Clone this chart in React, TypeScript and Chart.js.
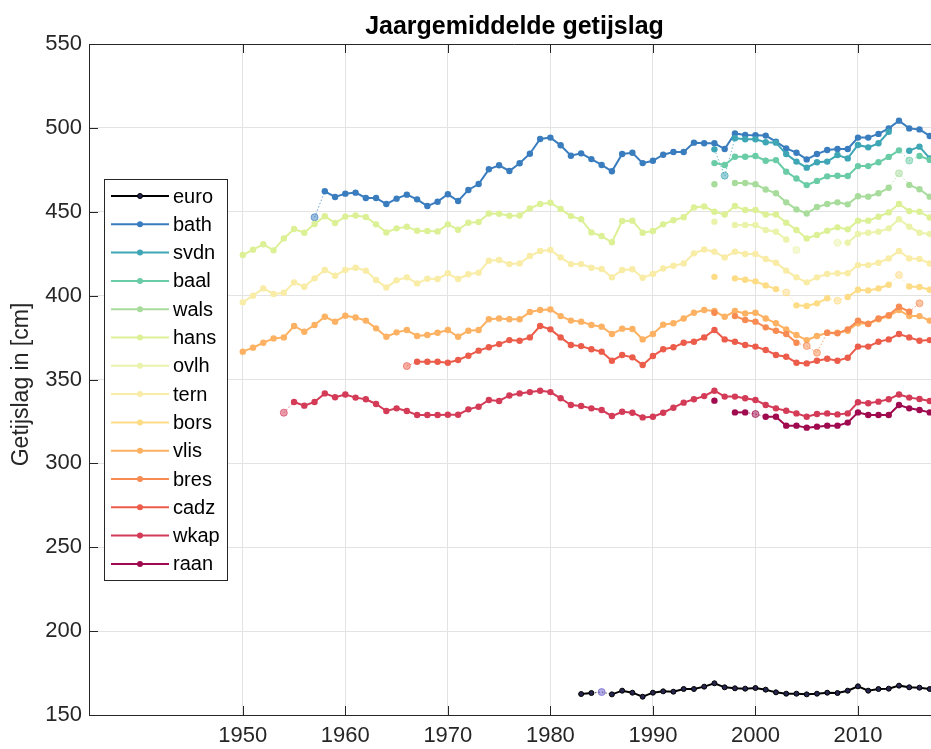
import React, { useEffect, useRef } from 'react';
import { Chart, registerables } from 'chart.js';

Chart.register(...registerables);

// ---- data (yearly means, cm) ----
const xTickYears = [1950, 1960, 1970, 1980, 1990, 2000, 2010];
const yTicks = [150, 200, 250, 300, 350, 400, 450, 500, 550];

const euroStart = 1983;
const euro = [162.5, 163.1, 163.7, 162.3, 164.5, 163.3, 160.9, 163.3, 164.1, 163.9, 165.5, 165.5, 166.9, 168.9, 166.5, 165.9, 165.7, 166.1, 165.1, 163.5, 162.7, 162.7, 162.3, 162.7, 163.3, 163.1, 164.5, 167.1, 164.5, 165.5, 165.7, 167.5, 166.5, 166.3, 165.5];
const euroEst = [1985];

const bathStart = 1957;
const bath = [446.7, 462.2, 458.8, 460.8, 461.4, 458.2, 458.2, 454.6, 457.8, 460.2, 457.4, 453.4, 456.0, 460.4, 456.4, 463.0, 466.5, 475.3, 477.7, 474.3, 478.9, 484.6, 493.4, 494.2, 489.6, 483.4, 484.8, 481.4, 477.9, 474.1, 484.4, 485.2, 479.0, 480.4, 484.0, 485.6, 485.6, 491.2, 490.8, 490.8, 487.4, 496.7, 495.8, 495.6, 495.4, 491.8, 487.8, 485.2, 481.2, 484.4, 486.8, 487.4, 487.4, 494.2, 494.2, 496.4, 499.7, 504.3, 499.7, 499.1, 495.2];
const bathEst = [1957];

const svdnStart = 1996;
const svdn = [487.2, 471.5, 493.8, 493.2, 493.2, 491.4, 491.2, 484.4, 479.9, 476.3, 479.5, 479.9, 483.8, 481.8, 489.8, 488.4, 490.8, 497.7, null, 486.4, 488.8, 481.8];
const svdnEst = [1997];

const baalStart = 1996;
const baal = [479.0, 477.9, 482.8, 482.8, 483.2, 480.4, 480.8, 473.9, 469.8, 465.9, 468.4, 471.1, 471.5, 471.3, 477.2, 477.2, 479.5, 482.7, 486.6, 480.5, 483.2, 480.9];
const baalEst = [2015];

const walsStart = 1996;
const wals = [466.4, null, 467.1, 467.1, 466.4, 463.3, 461.0, 455.6, 451.4, 449.0, 452.8, 454.6, 455.6, 454.4, 459.2, 459.0, 461.0, 464.3, 472.9, 466.0, 463.4, 459.0];
const walsEst = [2014];

const hansStart = 1950;
const hans = [424.2, 427.4, 430.6, 427.0, 434.1, 439.7, 437.5, 442.7, 447.3, 443.3, 447.1, 447.8, 446.9, 442.5, 437.7, 440.1, 441.1, 438.7, 438.5, 438.3, 442.5, 439.3, 443.5, 443.9, 449.0, 448.8, 447.6, 447.8, 452.0, 454.6, 455.4, 451.6, 447.4, 445.5, 437.7, 435.5, 431.8, 444.5, 444.7, 437.5, 438.5, 442.5, 444.9, 446.7, 452.6, 453.2, 450.0, 448.4, 453.4, 451.0, 451.0, 448.4, 448.4, 443.5, 439.1, 434.1, 436.1, 438.7, 440.7, 439.5, 444.7, 444.7, 447.0, 449.6, 454.6, 450.4, 450.0, 446.6];
const hansEst: number[] = [];

const ovlhStart = 1996;
const ovlh = [444.1, null, 442.1, 442.1, 442.1, 439.1, 438.1, 433.5, 427.2, null, null, null, 431.5, 431.5, 436.7, 437.5, 438.1, 440.1, 445.5, 441.1, 437.5, 436.7];
const ovlhEst = [2004, 2008];

const ternStart = 1950;
const tern = [396.0, 400.0, 404.3, 401.0, 401.7, 407.9, 405.3, 410.3, 415.3, 411.9, 415.3, 416.6, 414.9, 409.3, 404.9, 409.1, 410.9, 407.3, 410.1, 409.9, 413.3, 409.9, 412.7, 413.7, 420.8, 421.2, 418.8, 419.2, 423.6, 426.6, 427.2, 422.8, 418.8, 418.8, 416.6, 415.9, 410.9, 415.3, 415.7, 410.7, 412.9, 416.2, 417.8, 419.2, 425.2, 427.5, 426.2, 422.8, 426.2, 424.8, 424.8, 421.8, 419.6, 414.9, 410.9, 407.9, 410.9, 412.9, 413.3, 413.3, 418.2, 418.2, 419.6, 422.2, 426.6, 422.2, 421.8, 419.2];
const ternEst: number[] = [];

const borsStart = 1996;
const bors = [411.2, null, 410.3, 409.5, 408.5, 406.1, 403.9, 401.9, 394.2, 393.8, 395.4, 398.4, 397.0, 399.2, 403.5, 403.1, 404.3, 406.5, 412.3, 405.5, 405.1, 403.5];
const borsEst = [2003, 2008, 2014];

const vlisStart = 1950;
const vlis = [366.6, 369.0, 371.9, 374.5, 375.1, 381.9, 378.5, 382.5, 387.4, 384.5, 388.0, 387.0, 385.1, 380.5, 375.5, 378.1, 379.5, 375.9, 376.5, 377.9, 379.5, 375.5, 379.1, 379.5, 385.9, 386.4, 385.9, 385.9, 390.2, 391.4, 391.8, 387.8, 385.1, 384.5, 382.5, 381.5, 377.1, 380.3, 380.1, 373.9, 377.1, 382.7, 383.5, 386.4, 389.8, 391.4, 390.8, 387.4, 390.8, 389.4, 389.8, 386.4, 383.5, 379.9, 376.5, 373.5, 375.9, 377.9, 377.9, 379.1, 383.5, 383.3, 385.9, 387.8, 391.4, 387.8, 387.8, 385.1];
const vlisEst: number[] = [];

const bresStart = 1996;
const bres = [389.8, null, 387.8, 385.5, 384.5, 381.1, 379.1, 377.1, 371.9, 370.0, 366.0, 377.9, 377.5, 379.9, 385.1, 383.1, 386.4, 388.4, 393.4, 390.4, 395.4, null];
const bresEst = [2005, 2006, 2016];

const cadzStart = 1966;
const cadz = [358.0, 360.6, 360.6, 360.6, 360.0, 361.6, 364.2, 367.2, 369.2, 371.1, 373.5, 373.1, 375.1, 381.9, 379.9, 375.1, 370.6, 369.9, 368.0, 366.6, 361.2, 364.6, 363.2, 358.6, 364.0, 368.0, 369.2, 371.9, 372.5, 375.1, 379.5, 373.9, 372.5, 370.6, 369.6, 367.6, 364.6, 363.6, 360.0, 359.6, 361.2, 362.4, 361.2, 363.0, 369.6, 369.6, 372.5, 373.9, 377.1, 375.1, 373.1, 373.5];
const cadzEst = [1966];

const wkapStart = 1954;
const wkap = [330.2, 336.6, 334.4, 336.6, 341.7, 339.4, 341.1, 339.2, 338.2, 335.4, 331.2, 332.8, 331.2, 328.8, 328.8, 328.8, 329.0, 329.0, 332.2, 333.8, 337.8, 337.2, 340.5, 341.7, 342.5, 343.3, 342.5, 338.8, 334.8, 334.2, 332.8, 331.8, 328.2, 330.8, 330.2, 327.4, 327.8, 330.2, 333.2, 336.2, 338.2, 340.1, 343.3, 339.8, 339.8, 338.8, 337.8, 334.8, 332.8, 331.4, 329.8, 327.8, 329.4, 329.8, 329.2, 329.8, 336.4, 335.8, 336.8, 338.2, 341.1, 339.2, 338.4, 337.2];
const wkapEst = [1954];

const raanStart = 1996;
const raan = [337.4, null, 330.4, 330.4, 329.4, 327.8, 327.8, 322.5, 322.5, 321.3, 321.9, 322.5, 322.5, 324.3, 330.4, 328.8, 328.8, 328.8, 334.8, 332.8, 331.8, 330.4];
const raanEst = [2000];

const seriesTable = [
  { name: 'euro', start: euroStart, values: euro, est: euroEst, color: '#000000', fill: '#25254d' },
  { name: 'bath', start: bathStart, values: bath, est: bathEst, color: '#3a7dbf', fill: '#3a7dbf' },
  { name: 'svdn', start: svdnStart, values: svdn, est: svdnEst, color: '#3ea6b5', fill: '#3ea6b5' },
  { name: 'baal', start: baalStart, values: baal, est: baalEst, color: '#6acca6', fill: '#6acca6' },
  { name: 'wals', start: walsStart, values: wals, est: walsEst, color: '#a8dc9c', fill: '#a8dc9c' },
  { name: 'hans', start: hansStart, values: hans, est: hansEst, color: '#dcf095', fill: '#dcf095' },
  { name: 'ovlh', start: ovlhStart, values: ovlh, est: ovlhEst, color: '#ebf3ab', fill: '#ebf3ab' },
  { name: 'tern', start: ternStart, values: tern, est: ternEst, color: '#f8eca6', fill: '#f8eca6' },
  { name: 'bors', start: borsStart, values: bors, est: borsEst, color: '#fddc85', fill: '#fddc85' },
  { name: 'vlis', start: vlisStart, values: vlis, est: vlisEst, color: '#fdb162', fill: '#fdb162' },
  { name: 'bres', start: bresStart, values: bres, est: bresEst, color: '#f78b52', fill: '#f78b52' },
  { name: 'cadz', start: cadzStart, values: cadz, est: cadzEst, color: '#ec5c4a', fill: '#ec5c4a' },
  { name: 'wkap', start: wkapStart, values: wkap, est: wkapEst, color: '#d33b57', fill: '#d33b57' },
  { name: 'raan', start: raanStart, values: raan, est: raanEst, color: '#9f0b4e', fill: '#9f0b4e' },
];

const FONT = '"Liberation Sans", Arial, Helvetica, sans-serif';
const AXIS_COLOR = '#262626';

function rgba(hex: string, a: number) {
  const h = hex.replace('#', '');
  const r = parseInt(h.slice(0, 2), 16);
  const g = parseInt(h.slice(2, 4), 16);
  const b = parseInt(h.slice(4, 6), 16);
  return `rgba(${r},${g},${b},${a})`;
}

const decorPlugin = {
  id: 'decor',
  afterDraw(chart: any) {
    const { ctx, chartArea } = chart;
    const { left, right, top, bottom } = chartArea;
    const xs = chart.scales.x;
    const ys = chart.scales.y;
    ctx.save();
    // frame top + right
    ctx.strokeStyle = AXIS_COLOR;
    ctx.lineWidth = 1;
    ctx.beginPath();
    ctx.moveTo(left, top + 0.5);
    ctx.lineTo(right, top + 0.5);
    ctx.moveTo(right - 0.5, top);
    ctx.lineTo(right - 0.5, bottom);
    ctx.stroke();
    // inward ticks
    const tl = 9;
    ctx.beginPath();
    for (const v of yTicks) {
      const y = Math.round(ys.getPixelForValue(v)) + 0.5;
      ctx.moveTo(left, y);
      ctx.lineTo(left + tl, y);
      ctx.moveTo(right, y);
      ctx.lineTo(right - tl, y);
    }
    for (const v of xTickYears) {
      const x = Math.round(xs.getPixelForValue(v)) + 0.5;
      ctx.moveTo(x, bottom);
      ctx.lineTo(x, bottom - tl);
      ctx.moveTo(x, top);
      ctx.lineTo(x, top + tl);
    }
    ctx.stroke();

    // title
    ctx.fillStyle = '#000';
    ctx.font = `bold 25px ${FONT}`;
    ctx.textAlign = 'center';
    ctx.textBaseline = 'alphabetic';
    ctx.fillText('Jaargemiddelde getijslag', (left + right) / 2, 34);

    // y label
    ctx.save();
    ctx.translate(22, (top + bottom) / 2 + 5);
    ctx.rotate(-Math.PI / 2);
    ctx.fillStyle = AXIS_COLOR;
    ctx.font = `23px ${FONT}`;
    ctx.textAlign = 'center';
    ctx.textBaseline = 'middle';
    ctx.fillText('Getijslag in [cm]', 0, 0);
    ctx.restore();

    // legend
    const bx = 104, by = 179, bw = 123, bh = 401;
    ctx.fillStyle = '#ffffff';
    ctx.fillRect(bx, by, bw, bh);
    ctx.strokeStyle = AXIS_COLOR;
    ctx.lineWidth = 1;
    ctx.strokeRect(bx + 0.5, by + 0.5, bw, bh);
    ctx.font = `20px ${FONT}`;
    ctx.textAlign = 'left';
    ctx.textBaseline = 'middle';
    seriesTable.forEach((s, i) => {
      const y = 196 + i * 28.3;
      ctx.strokeStyle = s.color;
      ctx.lineWidth = 2;
      ctx.beginPath();
      ctx.moveTo(111, y);
      ctx.lineTo(169, y);
      ctx.stroke();
      ctx.beginPath();
      ctx.arc(140, y, s.name === 'euro' ? 2.5 : 3, 0, Math.PI * 2);
      ctx.fillStyle = s.fill;
      ctx.fill();
      if (s.name === 'euro') {
        ctx.strokeStyle = '#000';
        ctx.lineWidth = 1;
        ctx.stroke();
      }
      ctx.fillStyle = '#000';
      ctx.fillText(s.name, 173, y + 1);
    });
    ctx.restore();
  },
};

export default function App() {
  const ref = useRef<HTMLCanvasElement | null>(null);

  useEffect(() => {
    if (!ref.current) return;
    Chart.defaults.font.family = FONT;

    const datasets = seriesTable.map((s, i) => {
      const isEst = (idx: number) => s.est.includes(s.start + idx);
      const isEuro = s.name === 'euro';
      const estCol = isEuro ? '#6a5acd' : s.fill;
      return {
        label: s.name,
        data: s.values.map((v, k) => ({ x: s.start + k, y: v })),
        borderColor: s.color,
        backgroundColor: s.fill,
        borderWidth: 2,
        tension: 0,
        spanGaps: false,
        order: 100 - i,
        pointRadius: (c: any) => (isEst(c.dataIndex) ? 3.5 : isEuro ? 2.5 : 3.2),
        pointHoverRadius: isEuro ? 2.5 : 3.2,
        pointBackgroundColor: (c: any) => (isEst(c.dataIndex) ? rgba(estCol, 0.5) : s.fill),
        pointBorderColor: (c: any) => (isEst(c.dataIndex) ? rgba(estCol, 0.65) : isEuro ? '#000' : s.fill),
        pointBorderWidth: (c: any) => (isEst(c.dataIndex) ? 1 : isEuro ? 1 : 0),
        segment: {
          borderDash: (c: any) => (isEst(c.p0DataIndex) || isEst(c.p1DataIndex) ? [1.5, 2] : undefined),
          borderWidth: (c: any) => (isEst(c.p0DataIndex) || isEst(c.p1DataIndex) ? 1 : undefined),
          borderColor: (c: any) => (isEst(c.p0DataIndex) || isEst(c.p1DataIndex) ? rgba(s.color, 0.75) : undefined),
        },
      };
    });

    const chart = new Chart(ref.current, {
      type: 'line',
      data: { datasets },
      options: {
        responsive: false,
        animation: false,
        events: [],
        layout: { padding: { top: 44, right: 10, left: 0, bottom: 0 } },
        plugins: {
          legend: { display: false },
          title: { display: false },
          tooltip: { enabled: false },
        },
        scales: {
          x: {
            type: 'linear',
            min: 1935,
            max: 2018,
            afterBuildTicks: (scale: any) => {
              scale.ticks = xTickYears.map((v) => ({ value: v }));
            },
            afterFit: (scale: any) => {
              scale.height = 34;
            },
            grid: { color: '#e3e3e3', lineWidth: 1, drawTicks: false },
            border: { display: true, color: AXIS_COLOR, width: 1 },
            ticks: {
              color: AXIS_COLOR,
              font: { size: 22, family: FONT },
              padding: 8,
              maxRotation: 0,
              autoSkip: false,
              callback: (v: any) => String(v),
            },
          },
          y: {
            type: 'linear',
            min: 150,
            max: 550,
            afterBuildTicks: (scale: any) => {
              scale.ticks = yTicks.map((v) => ({ value: v }));
            },
            afterFit: (scale: any) => {
              scale.width = 89;
            },
            grid: { color: '#e3e3e3', lineWidth: 1, drawTicks: false },
            border: { display: true, color: AXIS_COLOR, width: 1 },
            ticks: {
              color: AXIS_COLOR,
              font: { size: 22, family: FONT },
              padding: 7,
              callback: (v: any) => String(v),
            },
          },
        },
      },
      plugins: [decorPlugin],
    } as any);

    return () => chart.destroy();
  }, []);

  return (
    <div style={{ position: 'fixed', left: 0, top: 0, width: 931, height: 749, overflow: 'hidden', background: '#fff' }}>
      <canvas ref={ref} width={950} height={749} style={{ display: 'block', width: 950, height: 749 }} />
    </div>
  );
}
